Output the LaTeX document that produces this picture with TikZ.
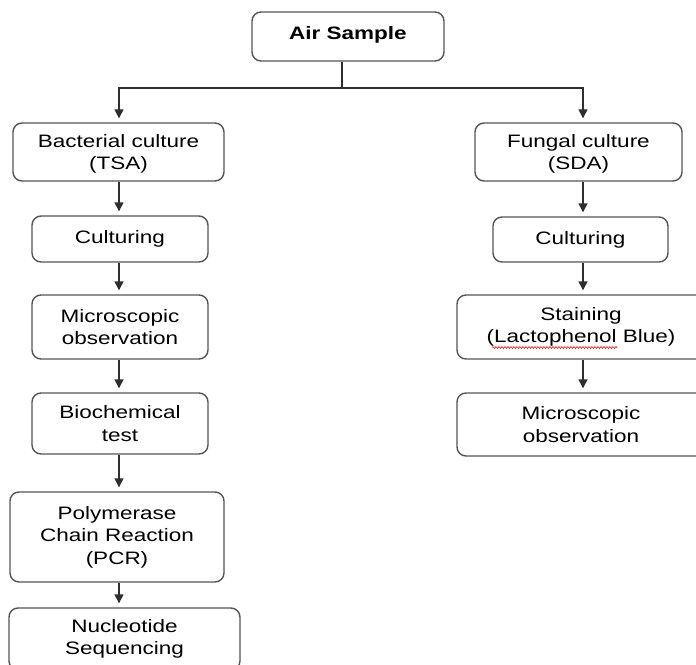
\documentclass[tikz,border=0pt]{standalone}
\usepackage{fontspec}
\setmainfont{Liberation Sans}[FakeStretch=1.25]
\usetikzlibrary{arrows.meta,decorations.pathmorphing}
\definecolor{boxgray}{gray}{0.33}
\definecolor{linegray}{gray}{0.18}
\newcommand{\toppad}{\rule{0pt}{17pt}}
\begin{document}
\begin{tikzpicture}[x=1pt,y=-1pt,
  box/.style={draw=boxgray, line width=1.4pt, rounded corners=9pt, align=center,
    inner sep=0pt, font=\fontsize{18}{22.5}\selectfont, text=black},
  conn/.style={line width=1.4pt, draw=linegray},
  arr/.style={conn, -{Triangle[width=9pt,length=9pt]}, shorten >=4pt}]
\useasboundingbox (0,0) rectangle (696,664);
\clip (0,0) rectangle (696,664);
\coordinate (colL) at (119,0);
\coordinate (colR) at (583,0);
\coordinate (j) at (342,88);
\node[box, minimum width=192pt, minimum height=49pt] (air) at (348,36.5)
  {\raisebox{8pt}{\bfseries Air Sample}};
% left column
\node[box, minimum width=211pt, minimum height=58pt] (bact) at (118.5,152) {\toppad Bacterial culture\\(TSA)};
\node[box, minimum width=176pt, minimum height=46pt] (cultL) at (120,239) {\raisebox{2pt}{Culturing}};
\node[box, minimum width=176pt, minimum height=64pt] (microL) at (120,327) {Microscopic\\observation};
\node[box, minimum width=176pt, minimum height=61pt] (bio) at (120,423.5) {Biochemical\\test};
\node[box, minimum width=214pt, minimum height=90pt] (pcr) at (117,537) {Polymerase\\Chain Reaction\\(PCR)};
\node[box, minimum width=231pt, minimum height=62pt] (nuc) at (124.5,639) {Nucleotide\\Sequencing};
% right column
\node[box, minimum width=207pt, minimum height=58pt] (fung) at (578.5,152) {\toppad Fungal culture\\(SDA)};
\node[box, minimum width=175pt, minimum height=45pt] (cultR) at (580.5,239.5) {\raisebox{2pt}{Culturing}};
\node[box, minimum width=248pt, minimum height=64pt] (stain) at (581,327) {Staining\\(Lactophenol Blue)};
\node[box, minimum width=248pt, minimum height=63pt] (microR) at (581,424.5) {Microscopic\\observation};
% connectors
\draw[conn] (air.south -| j) -- (j);
\draw[arr] (j) -| (bact.north -| colL);
\draw[arr] (j) -| (fung.north -| colR);
\draw[arr] (bact.south -| colL) -- (cultL.north -| colL);
\draw[arr] (cultL.south -| colL) -- (microL.north -| colL);
\draw[arr] (microL.south -| colL) -- (bio.north -| colL);
\draw[arr] (bio.south -| colL) -- (pcr.north -| colL);
\draw[arr] (pcr.south -| colL) -- (nuc.north -| colL);
\draw[arr] (fung.south -| colR) -- (cultR.north -| colR);
\draw[arr] (cultR.south -| colR) -- (stain.north -| colR);
\draw[arr] (stain.south -| colR) -- (microR.north -| colR);
% spell-check squiggle
\coordinate (sqA) at (492,347.5);
\coordinate (sqB) at (617,347.5);
\draw[red, line width=0.6pt, decorate, decoration={snake, amplitude=0.9pt, segment length=3pt}] (sqA) -- (sqB);
\end{tikzpicture}
\end{document}
